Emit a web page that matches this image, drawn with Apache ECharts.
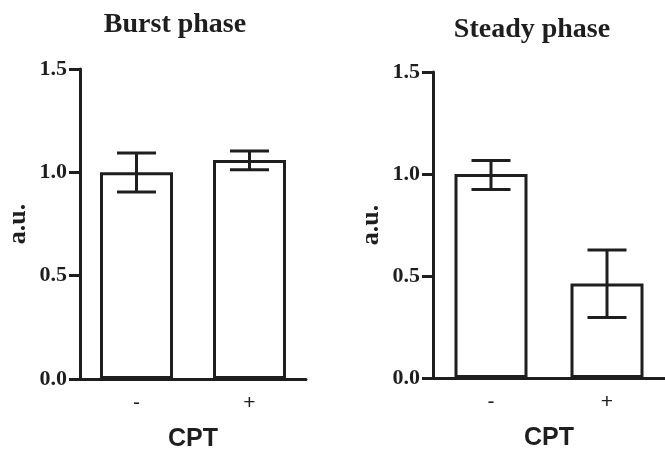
<!DOCTYPE html>
<html>
<head>
<meta charset="utf-8">
<script src="https://cdn.jsdelivr.net/npm/echarts@6/dist/echarts.min.js"></script>
<style>html,body{margin:0;padding:0;background:#fff}#c{width:665px;height:449px}</style>
</head>
<body>
<div id="c"></div>
<script>
const categories = ['-', '+'];
const burstMean = [1.0, 1.06];
const burstErrLow = [0.905, 1.012];
const burstErrHigh = [1.093, 1.103];
const steadyMean = [1.0, 0.463];
const steadyErrLow = [0.924, 0.297];
const steadyErrHigh = [1.066, 0.627];
const yTicks = [0, 0.5, 1.0, 1.5];

const INK = '#1e1e1e';
const chart = echarts.init(document.getElementById('c'), null, {renderer: 'canvas'});

function errItem(params, api) {
  const x = api.value(0);
  const lo = api.coord([x, api.value(1)]);
  const hi = api.coord([x, api.value(2)]);
  const half = 19.5;
  const style = {stroke: INK, lineWidth: 3, fill: null};
  return {
    type: 'group',
    children: [
      {type: 'line', shape: {x1: lo[0], y1: lo[1], x2: hi[0], y2: hi[1]}, style},
      {type: 'line', shape: {x1: lo[0] - half, y1: lo[1], x2: lo[0] + half, y2: lo[1]}, style},
      {type: 'line', shape: {x1: hi[0] - half, y1: hi[1], x2: hi[0] + half, y2: hi[1]}, style}
    ]
  };
}

function xAxis(gi) {
  return {
    type: 'category', gridIndex: gi, data: categories,
    name: 'CPT', nameLocation: 'middle', nameGap: 48,
    nameTextStyle: {fontFamily: 'Liberation Sans', fontWeight: 'bold', fontSize: 25, color: INK},
    axisLine: {lineStyle: {color: INK, width: 3}},
    axisTick: {alignWithLabel: true, length: 11, lineStyle: {color: INK, width: 3}},
    axisLabel: {fontFamily: 'Liberation Sans', fontSize: 21, color: INK, margin: 14}
  };
}
function yAxis(gi) {
  return {
    type: 'value', gridIndex: gi, min: yTicks[0], max: yTicks[yTicks.length - 1], interval: 0.5,
    name: 'a.u.', nameLocation: 'middle', nameGap: 49, nameRotate: 90,
    nameTextStyle: {fontFamily: 'Liberation Serif', fontWeight: 'bold', fontSize: 26, color: INK},
    axisLine: {show: true, lineStyle: {color: INK, width: 3}},
    axisTick: {show: true, length: 11, lineStyle: {color: INK, width: 3}},
    splitLine: {show: false},
    axisLabel: {fontFamily: 'Liberation Serif', fontWeight: 'bold', fontSize: 22, color: INK, margin: 13,
      formatter: v => v.toFixed(1)}
  };
}

const option = {
  animation: false,
  backgroundColor: '#fff',
  title: [
    {text: 'Burst phase', left: 170, top: 6, textAlign: 'center',
      textStyle: {fontFamily: 'Liberation Serif', fontWeight: 'bold', fontSize: 28, color: INK}},
    {text: 'Steady phase', left: 527, top: 11, textAlign: 'center',
      textStyle: {fontFamily: 'Liberation Serif', fontWeight: 'bold', fontSize: 28, color: INK}}
  ],
  grid: [
    {left: 80, right: 359, top: 69, bottom: 70, containLabel: false, outerBoundsMode: 'none'},
    {left: 433, right: 0, top: 72, bottom: 71, containLabel: false, outerBoundsMode: 'none'}
  ],
  xAxis: [xAxis(0), xAxis(1)],
  yAxis: [yAxis(0), yAxis(1)],
  series: [
    {type: 'bar', xAxisIndex: 0, yAxisIndex: 0, data: burstMean, barWidth: 73,
      itemStyle: {color: '#fff', borderColor: INK, borderWidth: 3}},
    {type: 'custom', xAxisIndex: 0, yAxisIndex: 0, renderItem: errItem, z: 10,
      data: categories.map((c, i) => [i, burstErrLow[i], burstErrHigh[i]])},
    {type: 'bar', xAxisIndex: 1, yAxisIndex: 1, data: steadyMean, barWidth: 73,
      itemStyle: {color: '#fff', borderColor: INK, borderWidth: 3}},
    {type: 'custom', xAxisIndex: 1, yAxisIndex: 1, renderItem: errItem, z: 10,
      data: categories.map((c, i) => [i, steadyErrLow[i], steadyErrHigh[i]])}
  ]
};
chart.setOption(option);
</script>
</body>
</html>
